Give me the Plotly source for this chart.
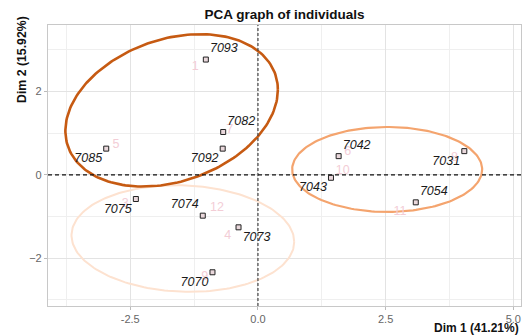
import numpy as np
import plotly.graph_objects as go

# ---- data ----
ids = ["7093", "7082", "7092", "7085", "7075", "7074", "7073", "7070",
       "7042", "7031", "7043", "7054"]
dim1 = [-1.02, -0.68, -0.69, -2.97, -2.39, -1.08, -0.38, -0.89,
        1.58, 4.04, 1.43, 3.09]
dim2 = [2.77, 1.03, 0.63, 0.63, -0.58, -0.98, -1.26, -2.34,
        0.45, 0.57, -0.07, -0.66]
label_pos = ["top right", "top right", "bottom left", "bottom left",
             "bottom left", "top left", "bottom right", "bottom left",
             "top right", "bottom left", "bottom left", "top right"]

# faint row-number labels
num_text = ["1", "5", "7", "3", "12", "4", "9", "6", "10", "11", "8"]
num_x = [-1.23, -2.78, -0.55, -2.60, -0.80, -0.59, -1.04, 1.76, 1.66, 2.78, 3.85]
num_y = [2.59, 0.71, 1.07, -0.70, -0.80, -1.47, -2.46, 0.55, 0.09, -0.88, 0.42]

# cluster ellipses: center, x half-extent, y half-extent, phase, colour, width
ell_cx = [-1.47, 2.53, -1.69]
ell_cy = [-1.53, 0.13, 1.55]
ell_ax = [2.18, 1.86, 2.08]
ell_ay = [1.28, 1.02, 1.83]
ell_phi = [1.51, 1.5708, 1.844]
ell_col = ["#fde2d0", "#f4a46e", "#c65a12"]
ell_w = [2.0, 2.2, 2.6]

x_ticks = [-2.5, 0.0, 2.5, 5.0]
y_ticks = [-2, 0, 2]

fig = go.Figure()

t = np.linspace(0, 2 * np.pi, 200)
for cx, cy, ax, ay, ph, col, w in zip(ell_cx, ell_cy, ell_ax, ell_ay, ell_phi, ell_col, ell_w):
    ex = cx + ax * np.cos(t)
    ey = cy - ay * np.cos(t - ph)
    fig.add_trace(go.Scatter(x=ex, y=ey, mode="lines",
                             line=dict(color=col, width=w),
                             hoverinfo="skip", showlegend=False))

fig.add_trace(go.Scatter(x=num_x, y=num_y, mode="text", text=num_text,
                         textfont=dict(family="Liberation Sans", size=12.5, color="#f3cdd6"),
                         showlegend=False, hoverinfo="skip"))

fig.add_trace(go.Scatter(
    x=dim1, y=dim2, mode="markers+text", text=ids, textposition=label_pos,
    marker=dict(symbol="square", size=5, color="#ead8dc",
                line=dict(color="#222222", width=1)),
    textfont=dict(family="Liberation Sans", size=12.5, color="#1a1a1a", style="italic"),
    showlegend=False))

fig.add_shape(type="line", xref="x", yref="paper", x0=0, x1=0, y0=0, y1=1,
              line=dict(color="#444444", width=1.2, dash="3px,2px"))
fig.add_shape(type="line", xref="paper", yref="y", x0=0, x1=1, y0=0, y1=0,
              line=dict(color="#111111", width=1.1, dash="4px,3px"))

fig.update_layout(
    width=529, height=336,
    margin=dict(l=48, r=8, t=25, b=30, autoexpand=False),
    paper_bgcolor="white", plot_bgcolor="white",
    title=dict(text="<b>PCA graph of individuals</b>", x=0.5, xref="paper",
               y=1 - 14 / 336, yref="container", xanchor="center", yanchor="middle",
               automargin=False,
               font=dict(family="Liberation Sans", size=13.5, color="#111111")),
    font=dict(family="Liberation Sans"),
    annotations=[
        dict(text="<b>Dim 2 (15.92%)</b>", textangle=-90, xref="paper", yref="paper",
             x=(22 - 48) / 473, y=(306 - 60) / 281, xanchor="center", yanchor="middle",
             showarrow=False, font=dict(size=12.3, color="#111111")),
        dict(text="<b>Dim 1 (41.21%)</b>", xref="paper", yref="paper",
             x=1, y=-(328 - 306) / 281, xanchor="right", yanchor="middle",
             showarrow=False, font=dict(size=12, color="#111111")),
    ],
)

axis_common = dict(showgrid=True, gridcolor="#e3e3e3", gridwidth=1, automargin=False,
                   zeroline=False, showline=True, linecolor="#c8c8c8", linewidth=1.2,
                   mirror=True, ticks="outside", ticklen=3, tickcolor="#bbbbbb",
                   tickfont=dict(family="Liberation Sans", size=11, color="#666666"))
fig.update_xaxes(range=[-4.11, 5.15], tickvals=x_ticks,
                 ticktext=[f"{v:.1f}" for v in x_ticks],
                 minor=dict(tick0=-3.75, dtick=2.5, showgrid=True, gridcolor="#efefef", ticks=""),
                 **axis_common)
fig.update_yaxes(range=[-3.15, 3.6], tickvals=y_ticks,
                 minor=dict(tick0=-3, dtick=2, showgrid=True, gridcolor="#efefef", ticks=""),
                 **axis_common)

fig.write_html("out.html", config={"displayModeBar": False},
               post_script="document.body.style.margin='0';document.body.style.overflow='hidden';")
